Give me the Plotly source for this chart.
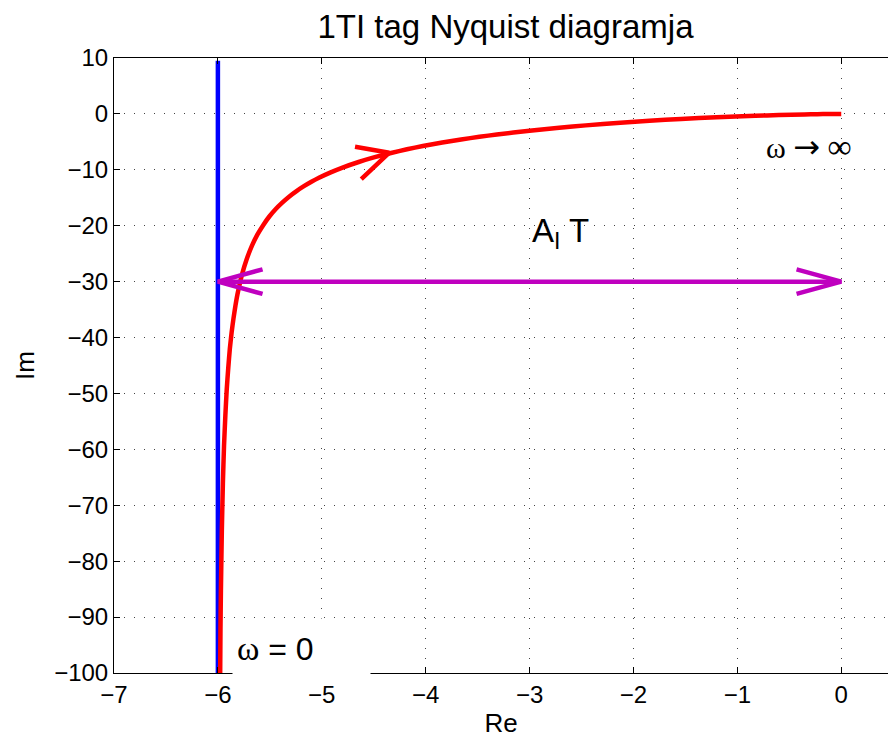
import plotly.graph_objects as go

# Nyquist locus of the integrating first-order (1TI) system
re_vals = [-5.978, -5.975, -5.971, -5.962, -5.952, -5.941, -5.928, -5.915,
           -5.900, -5.885, -5.868, -5.850, -5.831, -5.812, -5.791, -5.769,
           -5.723, -5.673, -5.620, -5.564, -5.505, -5.443, -5.378, -5.312,
           -5.243, -5.172, -5.100, -5.027, -4.914, -4.800, -4.645, -4.490,
           -4.334, -4.180, -4.027, -3.840, -3.659, -3.483, -3.315, -3.000,
           -2.715, -2.459, -2.126, -1.846, -1.542, -1.200, -0.828, -0.600,
           -0.353, -0.231, -0.120, -0.059, 0.000]
im_vals = [-100.0, -91.9, -85.3, -74.5, -66.1, -59.4, -53.9, -49.3,
           -45.4, -42.0, -39.1, -36.6, -34.3, -32.3, -30.5, -28.8,
           -26.0, -23.6, -21.6, -19.9, -18.35, -17.0, -15.82, -14.75,
           -13.80, -12.93, -12.14, -11.42, -10.46, -9.60, -8.60, -7.74,
           -6.99, -6.33, -5.75, -5.12, -4.57, -4.10, -3.68, -3.00,
           -2.47, -2.05, -1.575, -1.23, -0.907, -0.60, -0.331, -0.20,
           -0.088, -0.046, -0.017, -0.006, 0.0]

# asymptote Re = -A_I*T
asym_re = -6.0
asym_im = [-100.0, 9.5]

# A_I*T span drawn as a double arrow at Im = -30
span_re = [-6.0, 0.0]
span_im = -30.0

# direction arrow on the locus: tip and the two arm ends
dir_tip = (-4.35, -6.94)
dir_arm1 = (-4.68, -5.87)
dir_arm2 = (-4.62, -11.65)

x_ticks = [-7, -6, -5, -4, -3, -2, -1, 0]
y_ticks = [10, 0, -10, -20, -30, -40, -50, -60, -70, -80, -90, -100]
x_range = [-7, 0.45]
y_range = [-100, 10]

RED = "#ff0000"
BLUE = "#0000ff"
MAG = "#bf00bf"
FONT = "Liberation Sans"
SERIF = "Liberation Serif"
LW = 4.5

fig = go.Figure()

fig.add_trace(go.Scatter(x=[asym_re, asym_re], y=asym_im, mode="lines",
                         line=dict(color=BLUE, width=LW), hoverinfo="skip"))

fig.add_trace(go.Scatter(x=re_vals, y=im_vals, mode="lines",
                         line=dict(color=RED, width=LW, shape="spline",
                                   smoothing=0.5, simplify=False),
                         hoverinfo="skip"))

# open arrowhead on the locus
fig.add_trace(go.Scatter(x=[dir_arm1[0], dir_tip[0], dir_arm2[0]],
                         y=[dir_arm1[1], dir_tip[1], dir_arm2[1]], mode="lines",
                         line=dict(color=RED, width=LW), hoverinfo="skip"))

# double arrow for A_I*T
head_dx, head_dy = 0.43, 2.2
x0, x1 = span_re
fig.add_trace(go.Scatter(x=[x0, x1], y=[span_im, span_im], mode="lines",
                         line=dict(color=MAG, width=LW), hoverinfo="skip"))
fig.add_trace(go.Scatter(x=[x0 + head_dx, x0, x0 + head_dx],
                         y=[span_im + head_dy, span_im, span_im - head_dy], mode="lines",
                         line=dict(color=MAG, width=LW), hoverinfo="skip"))
fig.add_trace(go.Scatter(x=[x1 - head_dx, x1, x1 - head_dx],
                         y=[span_im + head_dy, span_im, span_im - head_dy], mode="lines",
                         line=dict(color=MAG, width=LW), hoverinfo="skip"))

# text labels
fig.add_annotation(x=-3.0, y=-21.3, xref="x", yref="y", xanchor="left", yanchor="middle",
                   text="A<sub>I</sub> T", showarrow=False,
                   font=dict(family=FONT, size=33, color="black"))
fig.add_annotation(x=-0.74, y=-6.0, xref="x", yref="y", xanchor="left", yanchor="middle",
                   text=("ω <span style='font-family:DejaVu Sans;font-size:32px'>→</span>"
                         " <span style='font-size:34px'>∞</span>"),
                   showarrow=False,
                   font=dict(family=SERIF, size=30, color="black"))
fig.add_annotation(x=-5.86, y=-95.5, xref="x", yref="y", xanchor="left", yanchor="middle",
                   text="<span style='font-family:Liberation Serif;font-size:34px'>ω</span> = 0",
                   showarrow=False, width=129, height=50, align="left", valign="middle",
                   bgcolor="white", borderpad=4,
                   font=dict(family=FONT, size=32, color="black"))

grid = dict(showgrid=True, gridcolor="#444444", gridwidth=1, griddash="1px,9px")

fig.update_xaxes(range=x_range, tickvals=x_ticks, ticks="inside", ticklen=6,
                 tickcolor="black", showline=True, linecolor="black", linewidth=1,
                 mirror="allticks", zeroline=False,
                 tickfont=dict(family=FONT, size=24, color="black"),
                 title=dict(text="Re", font=dict(family=FONT, size=26, color="black"),
                            standoff=4),
                 **grid)
fig.update_yaxes(range=y_range, tickvals=y_ticks, ticks="inside", ticklen=6,
                 tickcolor="black", showline=True, linecolor="black", linewidth=1,
                 mirror=False, zeroline=False,
                 tickfont=dict(family=FONT, size=24, color="black"),
                 title=dict(text="Im", font=dict(family=FONT, size=26, color="black"),
                            standoff=12),
                 **grid)

fig.update_layout(
    width=888, height=742,
    margin=dict(l=114, r=0, t=58, b=69),
    paper_bgcolor="white", plot_bgcolor="white",
    showlegend=False,
    title=dict(text="1TI tag Nyquist diagramja", x=505.5 / 888, xanchor="center",
               y=1 - 26 / 742, yanchor="middle", yref="container",
               font=dict(family=FONT, size=33, color="black")),
)

fig.write_html("out.html")
